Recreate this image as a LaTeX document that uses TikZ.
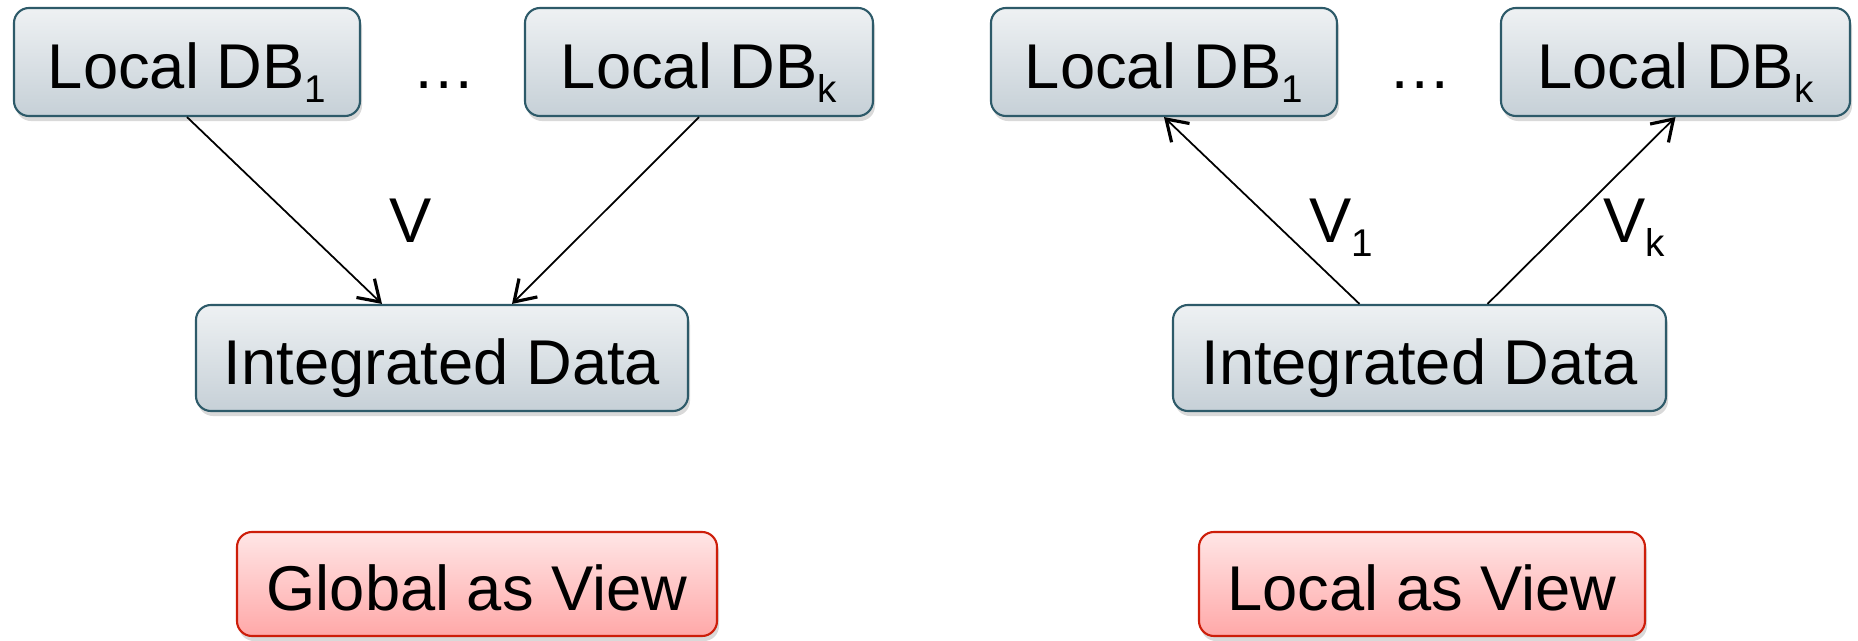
\documentclass[tikz,border=0pt]{standalone}
\usepackage{fontspec}
\setmainfont{Liberation Sans}
\usetikzlibrary{arrows.meta,shadows}
\definecolor{dbedge}{RGB}{45,90,105}
\definecolor{dbtop}{RGB}{238,241,243}
\definecolor{dbbot}{RGB}{198,208,215}
\definecolor{tagedge}{RGB}{205,30,10}
\definecolor{tagtop}{RGB}{255,230,230}
\definecolor{tagbot}{RGB}{255,168,168}
\newcommand\dbsub[1]{\raisebox{-0.14cm}{\fontsize{11}{13}\selectfont #1}}

\begin{document}
\begin{tikzpicture}[
        font=\fontsize{18}{22}\selectfont,
        every node/.style={inner sep=0pt},
        boxtext/.style={text height=0.52cm, text depth=0cm},
        dbbox/.style={boxtext, draw=dbedge, line width=0.6pt, rounded corners=0.15cm,
            top color=dbtop, bottom color=dbbot, minimum height=1.08cm,
            drop shadow={opacity=0.3, shadow xshift=0.02cm, shadow yshift=-0.05cm}},
        tagbox/.style={boxtext, draw=tagedge, line width=0.6pt, rounded corners=0.15cm,
            top color=tagtop, bottom color=tagbot, minimum height=1.04cm,
            drop shadow={opacity=0.3, shadow xshift=0.02cm, shadow yshift=-0.05cm}},
        view/.style={line width=0.5pt, -{Straight Barb[length=2mm,width=2.6mm,line width=0.9pt]}}
    ]
            \useasboundingbox (0,0) rectangle (18.58,6.40);
            \node[dbbox, minimum width=3.46cm] (db1L) at (1.87,5.78) {Local DB\dbsub{1}};
            \node[boxtext] (dotsL) at (4.44,5.78) {…};
            \node[dbbox, minimum width=3.48cm] (dbkL) at (6.99,5.78) {Local DB\dbsub{k}};
            \node[dbbox, minimum width=4.92cm, minimum height=1.06cm] (intL) at (4.42,2.82) {Integrated Data};
            \node[tagbox, minimum width=4.80cm] (gav) at (4.77,0.56) {Global as View};
            \draw[view] (db1L.south) -- ([xshift=-0.60cm]intL.north);
            \draw[view] (dbkL.south) -- ([xshift=0.70cm]intL.north);
            \node[anchor=base west] (vL) at (3.89,3.98) {V};
            \node[dbbox, minimum width=3.46cm] (db1R) at (11.64,5.78) {Local DB\dbsub{1}};
            \node[boxtext] (dotsR) at (14.20,5.78) {…};
            \node[dbbox, minimum width=3.49cm] (dbkR) at (16.755,5.78) {Local DB\dbsub{k}};
            \node[dbbox, minimum width=4.93cm, minimum height=1.06cm] (intR) at (14.195,2.82) {Integrated Data};
            \node[tagbox, minimum width=4.46cm] (lav) at (14.22,0.56) {Local as View};
            \draw[view] ([xshift=-0.60cm]intR.north) -- (db1R.south);
            \draw[view] ([xshift=0.68cm]intR.north) -- (dbkR.south);
            \node[anchor=base west] (v1R) at (13.09,3.98) {V\dbsub{1}};
            \node[anchor=base west] (vkR) at (16.03,3.98) {V\dbsub{k}};
        \end{tikzpicture}
\end{document}
